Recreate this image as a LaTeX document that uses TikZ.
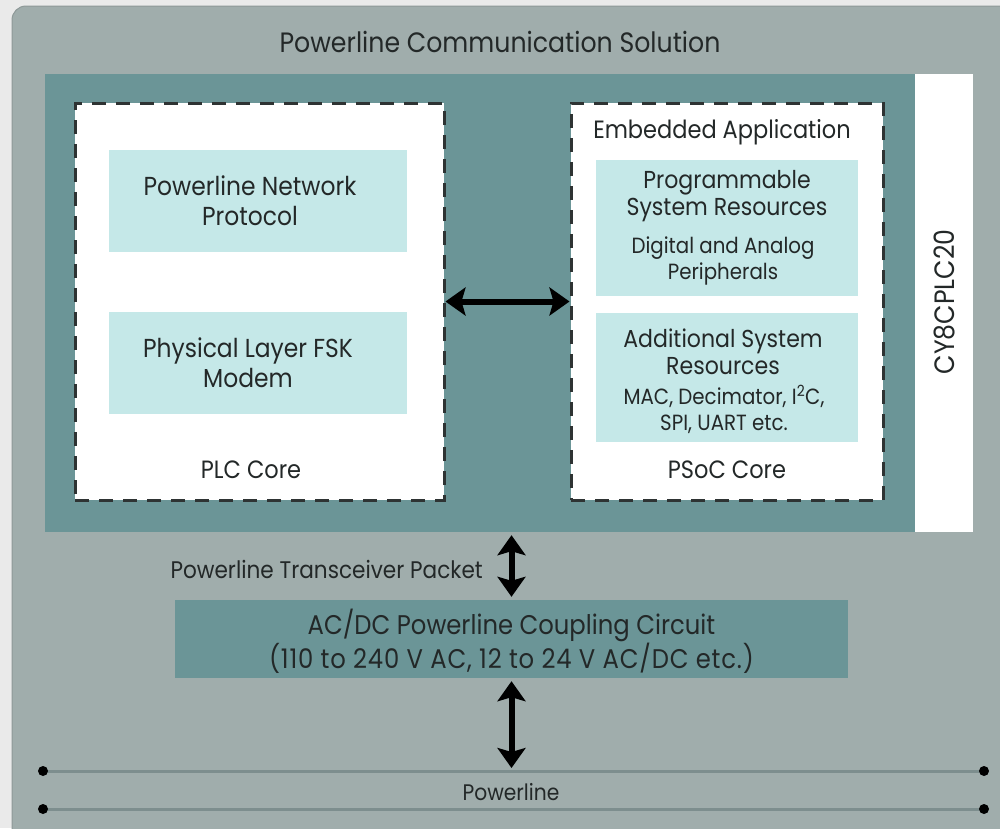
\documentclass[tikz,border=0pt]{standalone}
\usepackage{fontspec}
\setmainfont{Poppins}[FakeStretch=0.9]
\usetikzlibrary{arrows.meta}
\definecolor{bgc}{HTML}{EAEAEA}
\definecolor{panelc}{HTML}{A0ADAC}
\definecolor{paneledge}{HTML}{8E9998}
\definecolor{tealc}{HTML}{6B9597}
\definecolor{cyanc}{HTML}{C5E8E8}
\definecolor{txtc}{HTML}{232828}
\definecolor{dashc}{HTML}{2E3333}
\definecolor{linec}{HTML}{7D8E8E}
\tikzset{
  txt/.style={inner sep=0pt, text=txtc, align=center},
  titlefont/.style={font=\fontsize{28}{32}\selectfont},
  boxfont/.style={font=\fontsize{26}{30}\selectfont},
  headfont/.style={font=\fontsize{24.5}{27}\selectfont},
  corefont/.style={font=\fontsize{25}{30}\selectfont},
  detfont/.style={font=\fontsize{22}{26}\selectfont},
  coupfont/.style={font=\fontsize{27}{32}\selectfont},
  labfont/.style={font=\fontsize{24}{28}\selectfont},
  dashbox/.style={fill=white, draw=dashc, line width=3pt, dash pattern=on 14pt off 10pt, inner sep=0pt},
  cyanbox/.style={fill=cyanc, inner sep=0pt},
  bigarrow/.style={line width=6pt, {Stealth[length=20pt,width=28pt,inset=4pt]}-{Stealth[length=20pt,width=28pt,inset=4pt]}},
  dot/.style={circle, fill=black, inner sep=0pt, minimum size=10pt},
  pline/.style={draw=linec, line width=3pt}
}
\begin{document}
\begin{tikzpicture}[x=1pt,y=-1pt]
\useasboundingbox (0,0) rectangle (1000,828);
\fill[bgc] (0,0) rectangle (1000,828);
\filldraw[fill=panelc, draw=paneledge, line width=1pt, rounded corners=14pt] (12,6) rectangle (1016,846);
\node[txt, titlefont] (title) at (500,42) {Powerline Communication Solution};
% chip
\node[fill=tealc, inner sep=0pt, minimum width=870pt, minimum height=458pt] (chip) at (480,303) {};
\node[fill=white, inner sep=0pt, minimum width=58pt, minimum height=458pt] (chipname) at (944,303) {};
\node[txt, font=\fontsize{28}{32}\selectfont, rotate=90] (cy) at (944,302) {CY8CPLC20};
% PLC core
\node[dashbox, minimum width=369pt, minimum height=397pt] (plc) at (259.5,301.5) {};
\node[cyanbox, minimum width=298pt, minimum height=102pt] (pnp) at (258,201) {};
\node[txt, boxfont] (pnpt) at (250,201) {Powerline Network\\Protocol};
\node[cyanbox, minimum width=298pt, minimum height=102pt] (fsk) at (258,363) {};
\node[txt, boxfont] (fskt) at (248,363) {Physical Layer FSK\\Modem};
\node[txt, corefont] (plct) at (251,470) {PLC Core};
% PSoC core
\node[dashbox, minimum width=312pt, minimum height=397pt] (psoc) at (727,301.5) {};
\node[txt, corefont] (emb) at (722,132) {Embedded Application};
\node[cyanbox, minimum width=262pt, minimum height=136pt] (prog) at (727,228) {};
\node[txt, headfont] (progt) at (727,196.5) {Programmable\\System Resources};
\node[txt, detfont] (progd) at (723,260.5) {Digital and Analog\\Peripherals};
\node[cyanbox, minimum width=262pt, minimum height=129pt] (add) at (727,377.5) {};
\node[txt, headfont] (addt) at (723,352) {Additional System\\Resources};
\node[txt, detfont] (addd) at (724,409.5) {MAC, Decimator, I\textsuperscript{2}C,\\SPI, UART etc.};
\node[txt, corefont] (psoct) at (727,470) {PSoC Core};
\draw[bigarrow] (plc) -- (psoc);
% coupling
\node[fill=tealc, inner sep=0pt, minimum width=673pt, minimum height=78pt] (coup) at (511.5,639) {};
\node[txt, coupfont] (coupt) at (511.5,641) {AC/DC Powerline Coupling Circuit\\{\addfontfeature{LetterSpace=3}(110 to 240 V AC, 12 to 24 V AC/DC etc.)}};
\node[txt, labfont, anchor=east] (ptp) at (483,569) {Powerline Transceiver Packet};
\draw[bigarrow, shorten <=3pt, shorten >=3pt] (coup.north |- chip.south) -- (coup.north);
% powerline
\coordinate (pla) at (43,771);
\coordinate (plb) at (984,771);
\coordinate (plc1) at (43,809);
\coordinate (pld) at (984,809);
\coordinate (plmid) at (511.5,768);
\draw[pline] (pla) -- (plb);
\draw[pline] (plc1) -- (pld);
\node[dot] (d1) at (pla) {};
\node[dot] (d2) at (plb) {};
\node[dot] (d3) at (plc1) {};
\node[dot] (d4) at (pld) {};
\node[txt, font=\fontsize{22.5}{26}\selectfont] (plt) at (511,792) {Powerline};
\draw[bigarrow, shorten <=3pt] (coup.south) -- (plmid);
\end{tikzpicture}
\end{document}
